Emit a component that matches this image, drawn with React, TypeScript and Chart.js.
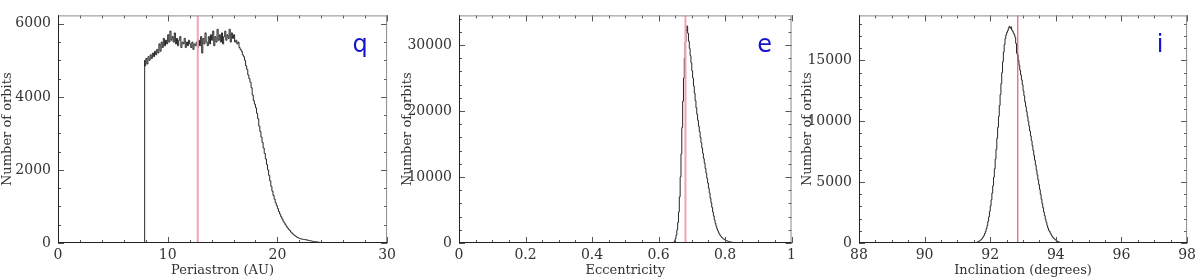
import React, { useEffect, useRef } from 'react';
import { Chart, registerables } from 'chart.js';
Chart.register(...registerables);

// ---------- Data ----------
// Periastron histogram (AU), bins of 0.1 starting at 7.9
const qStart = 7.9;
const qBinWidth = 0.1;
const qCounts = [
  5000, 4850, 5050, 4900, 5100, 5000, 5150, 5050, 5200, 5100,
  5250, 5150, 5300, 5200, 5450, 5250, 5500, 5350, 5600, 5400,
  5550, 5450, 5700, 5500, 5800, 5550, 5650, 5500, 5750, 5450,
  5600, 5400, 5550, 5650, 5350, 5500, 5450, 5600, 5350, 5500,
  5400, 5550, 5450, 5350, 5500, 5300, 5450, 5400, 5500, 5350,
  5550, 5400, 5650, 5200, 5600, 5450, 5750, 5500, 5400, 5650,
  5450, 5700, 5550, 5800, 5400, 5650, 5500, 5850, 5550, 5700,
  5500, 5750, 5450, 5650, 5800, 5550, 5700, 5600, 5850, 5500,
  5750, 5600, 5700, 5500, 5550, 5450, 5500, 5350, 5300, 5250,
  5150, 5100, 5000, 4850, 4750, 4600, 4500, 4400, 4250, 4050,
  3900, 3800, 3700, 3550, 3400, 3200, 3050, 2900, 2750, 2600,
  2450, 2300, 2150, 2000, 1850, 1700, 1550, 1420, 1300, 1200,
  1100, 1020, 940, 860, 790, 720, 660, 600, 550, 500,
  450, 410, 370, 340, 300, 270, 240, 210, 190, 170,
  150, 135, 125, 115, 105, 100, 95, 90, 85, 80,
  72, 65, 58, 52, 46, 40, 35, 30, 26, 22,
  18, 15, 12, 10, 8, 6, 5, 4, 3, 2, 1,
];
const qMarker = 12.74;
const qXTicks = [0, 10, 20, 30];
const qXTickLabels = ['0', '10', '20', '30'];
const qYTicks = [0, 2000, 4000, 6000];
const qYTickLabels = ['0', '2000', '4000', '6000'];

// Eccentricity histogram, bins of 0.0025 starting at 0.6425
const eStart = 0.6425;
const eBinWidth = 0.0025;
const eCounts = [
  10, 40, 120, 300, 650, 1200, 2000, 3100, 4700, 7000,
  10000, 13500, 17500, 21500, 25000, 28000, 30500, 32200, 32900, 31800,
  30600, 29500, 28400, 27300, 26100, 25000, 23800, 22700, 21600, 20500,
  19500, 18600, 17700, 16900, 16000, 15200, 14400, 13600, 12800, 12100,
  11300, 10600, 9800, 9100, 8300, 7600, 6800, 6100, 5400, 4700,
  4100, 3500, 3000, 2550, 2150, 1850, 1550, 1320, 1120, 960,
  820, 700, 600, 510, 440, 380, 320, 270, 230, 190,
  160, 130, 110, 90, 75, 60, 50, 40, 32, 25,
  20, 15, 11, 8, 5, 3, 2,
];
const eMarker = 0.681;
const eXTicks = [0, 0.2, 0.4, 0.6, 0.8, 1];
const eXTickLabels = ['0', '0.2', '0.4', '0.6', '0.8', '1'];
const eYTicks = [0, 10000, 20000, 30000];
const eYTickLabels = ['0', '10000', '20000', '30000'];

// Inclination histogram (degrees), bins of 0.025 starting at 91.5
const iStart = 91.5;
const iBinWidth = 0.025;
const iCounts = [
  8, 15, 25, 40, 55, 80, 110, 150, 190, 250,
  310, 400, 500, 620, 780, 950, 1180, 1450, 1780, 2150,
  2600, 3050, 3550, 4100, 4700, 5400, 6100, 6900, 7700, 8600,
  9500, 10400, 11300, 12200, 13100, 14000, 14900, 15700, 16300, 16800,
  17100, 17300, 17450, 17650, 17800, 17650, 17750, 17500, 17400, 17250,
  17100, 16900, 16400, 15600, 15450, 15000, 14600, 14200, 13800, 13400,
  13000, 12500, 12100, 11600, 11200, 10800, 10400, 10000, 9600, 9200,
  8800, 8400, 8000, 7600, 7200, 6800, 6400, 6000, 5600, 5200,
  4800, 4400, 4000, 3600, 3250, 2900, 2550, 2250, 1950, 1700,
  1450, 1230, 1040, 950, 800, 680, 560, 470, 400, 330,
  270, 210, 160, 120, 90, 68, 50, 38, 28, 20,
  14, 10, 7, 4, 2, 1,
];
const iMarker = 92.84;
const iXTicks = [88, 90, 92, 94, 96, 98];
const iXTickLabels = ['88', '90', '92', '94', '96', '98'];
const iYTicks = [0, 5000, 10000, 15000];
const iYTickLabels = ['0', '5000', '10000', '15000'];

// ---------- Styling ----------
const TEXT_COLOR = '#333333';
const FONT_FAMILY = "'DejaVu Serif', serif";

type Spec = {
  start: number; binWidth: number; counts: number[]; marker: number;
  markerColor: string; markerWidth: number;
  xMin: number; xMax: number; yMax: number;
  xTicks: number[]; xTickLabels: string[]; yTicks: number[]; yTickLabels: string[];
  xMinor: number; yMinor: number;
  xTitle: string; letter: string;
  yAxisWidth: number; padTop: number; padRight: number; left: number;
};

const specs: Spec[] = [
  {
    start: qStart, binWidth: qBinWidth, counts: qCounts, marker: qMarker,
    markerColor: '#f4a3b3', markerWidth: 2,
    xMin: 0, xMax: 30, yMax: 6230,
    xTicks: qXTicks, xTickLabels: qXTickLabels, yTicks: qYTicks, yTickLabels: qYTickLabels,
    xMinor: 2, yMinor: 500, xTitle: 'Periastron (AU)', letter: 'q',
    yAxisWidth: 58, padTop: 7, padRight: 10, left: 0,
  },
  {
    start: eStart, binWidth: eBinWidth, counts: eCounts, marker: eMarker,
    markerColor: '#f4a3b3', markerWidth: 2,
    xMin: 0, xMax: 1, yMax: 34500,
    xTicks: eXTicks, xTickLabels: eXTickLabels, yTicks: eYTicks, yTickLabels: eYTickLabels,
    xMinor: 0.05, yMinor: 2000, xTitle: 'Eccentricity', letter: 'e',
    yAxisWidth: 59, padTop: 5, padRight: 4, left: 400,
  },
  {
    start: iStart, binWidth: iBinWidth, counts: iCounts, marker: iMarker,
    markerColor: '#d8404f', markerWidth: 1,
    xMin: 88, xMax: 98, yMax: 18700,
    xTicks: iXTicks, xTickLabels: iXTickLabels, yTicks: iYTicks, yTickLabels: iYTickLabels,
    xMinor: 0.5, yMinor: 1000, xTitle: 'Inclination (degrees)', letter: 'i',
    yAxisWidth: 59, padTop: 7, padRight: 8, left: 800,
  },
];

function histogramPoints(start: number, w: number, counts: number[]) {
  const pts = [{ x: start, y: 0 }];
  counts.forEach((c, k) => pts.push({ x: start + k * w, y: c }));
  pts.push({ x: start + counts.length * w, y: 0 });
  return pts;
}

function framePlugin(spec: Spec) {
  return {
    id: 'frameTicks',
    afterDatasetsDraw(chart: any) {
      const { ctx, chartArea } = chart;
      const { left, right, top, bottom } = chartArea;
      const xs = chart.scales.x;
      const ys = chart.scales.y;
      ctx.save();
      ctx.lineWidth = 1;
      ctx.strokeStyle = '#555555';
      const drawX = (v: number, len: number) => {
        const px = Math.round(xs.getPixelForValue(v)) + 0.5;
        ctx.beginPath();
        ctx.moveTo(px, bottom); ctx.lineTo(px, bottom - len);
        ctx.moveTo(px, top); ctx.lineTo(px, top + len);
        ctx.stroke();
      };
      const drawY = (v: number, len: number) => {
        const py = Math.round(ys.getPixelForValue(v)) + 0.5;
        ctx.beginPath();
        ctx.moveTo(left, py); ctx.lineTo(left + len, py);
        ctx.moveTo(right, py); ctx.lineTo(right - len, py);
        ctx.stroke();
      };
      const nx = Math.round((spec.xMax - spec.xMin) / spec.xMinor);
      for (let k = 0; k <= nx; k++) drawX(spec.xMin + k * spec.xMinor, 3);
      spec.xTicks.forEach((v) => drawX(v, 6));
      const ny = Math.floor(spec.yMax / spec.yMinor);
      for (let k = 0; k <= ny; k++) drawY(k * spec.yMinor, 3);
      spec.yTicks.forEach((v) => drawY(v, 6));
      ctx.strokeStyle = '#8a8a8a';
      ctx.beginPath();
      ctx.moveTo(left, top + 0.5); ctx.lineTo(right, top + 0.5);
      ctx.moveTo(right - 0.5, top); ctx.lineTo(right - 0.5, bottom);
      ctx.stroke();
      ctx.strokeStyle = '#222222';
      ctx.beginPath();
      ctx.moveTo(left + 0.5, top); ctx.lineTo(left + 0.5, bottom);
      ctx.moveTo(left, bottom - 0.5); ctx.lineTo(right, bottom - 0.5);
      ctx.stroke();
      ctx.fillStyle = '#1414cc';
      ctx.font = "24px 'DejaVu Sans', sans-serif";
      ctx.textAlign = 'center';
      ctx.textBaseline = 'alphabetic';
      ctx.fillText(spec.letter, right - 27, top + 37);
      ctx.restore();
    },
  };
}

function Panel({ spec }: { spec: Spec }) {
  const ref = useRef<HTMLCanvasElement>(null);
  useEffect(() => {
    if (!ref.current) return;
    const titleFont = { family: FONT_FAMILY, size: 13 };
    const tickFont = { family: FONT_FAMILY, size: 14 };
    const chart = new Chart(ref.current, {
      type: 'line',
      data: {
        datasets: [
          {
            data: [{ x: spec.marker, y: 0 }, { x: spec.marker, y: spec.yMax }],
            borderColor: spec.markerColor,
            borderWidth: spec.markerWidth,
            pointRadius: 0,
          },
          {
            data: histogramPoints(spec.start, spec.binWidth, spec.counts),
            borderColor: '#262626',
            borderWidth: 1,
            stepped: 'after',
            pointRadius: 0,
          },
        ],
      },
      options: {
        responsive: false,
        animation: false,
        layout: { padding: { top: spec.padTop, right: spec.padRight, left: 0, bottom: 0 } },
        plugins: { legend: { display: false }, tooltip: { enabled: false } },
        scales: {
          x: {
            type: 'linear',
            min: spec.xMin,
            max: spec.xMax,
            grid: { display: false, drawTicks: false },
            border: { display: false },
            afterBuildTicks: (s: any) => { s.ticks = spec.xTicks.map((v) => ({ value: v })); },
            afterFit: (s: any) => { s.height = 37; },
            ticks: {
              padding: 4, color: TEXT_COLOR, font: tickFont, maxRotation: 0, autoSkip: false,
              callback: (_v: any, idx: number) => spec.xTickLabels[idx],
            },
            title: {
              display: true, text: spec.xTitle, color: TEXT_COLOR, font: titleFont,
              padding: { top: 0, bottom: 2 },
            },
          },
          y: {
            type: 'linear',
            min: 0,
            max: spec.yMax,
            grid: { display: false, drawTicks: false },
            border: { display: false },
            afterBuildTicks: (s: any) => { s.ticks = spec.yTicks.map((v) => ({ value: v })); },
            afterFit: (s: any) => { s.width = spec.yAxisWidth; },
            ticks: {
              padding: 7, color: TEXT_COLOR, font: tickFont, autoSkip: false,
              callback: (_v: any, idx: number) => spec.yTickLabels[idx],
            },
            title: {
              display: true, text: 'Number of orbits', color: TEXT_COLOR, font: titleFont,
              padding: { top: 0, bottom: 0 },
            },
          },
        },
      },
      plugins: [framePlugin(spec)],
    } as any);
    return () => chart.destroy();
  }, [spec]);
  return (
    <div style={{ position: 'absolute', left: spec.left, top: 0, width: 400, height: 280 }}>
      <canvas ref={ref} width={400} height={280} style={{ width: 400, height: 280, display: 'block' }} />
    </div>
  );
}

export default function App() {
  return (
    <div style={{ position: 'absolute', left: 0, top: 0, width: 1200, height: 280, background: '#ffffff' }}>
      {specs.map((s, k) => (
        <Panel key={k} spec={s} />
      ))}
    </div>
  );
}
